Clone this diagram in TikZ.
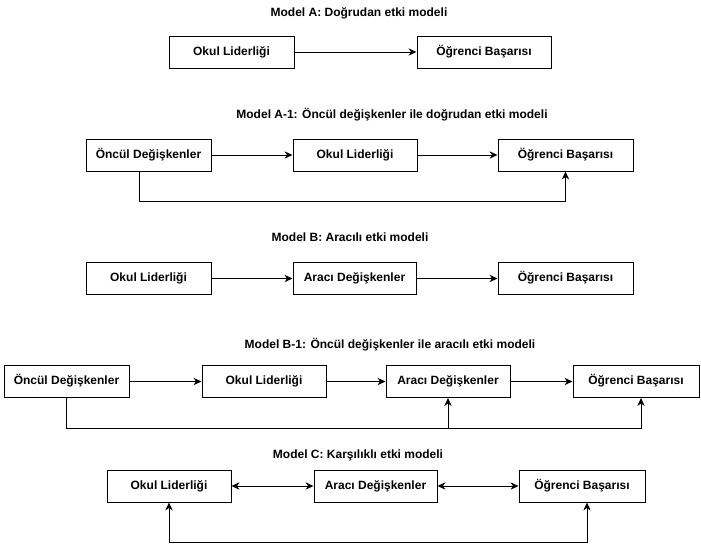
\documentclass[tikz,border=0pt]{standalone}
\usepackage{fontspec}
\setmainfont{Liberation Sans}
\usetikzlibrary{arrows.meta}

\tikzset{every picture/.style={line width=0.75pt}}
\tikzset{
  box/.style={draw, rectangle, minimum height=24pt, inner sep=0pt, text height=6.6pt, text depth=1.9pt, font=\fontsize{9}{11}\selectfont\bfseries},
  ttl/.style={font=\fontsize{9}{11}\selectfont\bfseries},
  arr/.style={-{Stealth[length=6pt,width=5.5pt]}},
  biarr/.style={{Stealth[length=6pt,width=5.5pt]}-{Stealth[length=6pt,width=5.5pt]}}
}

\begin{document}
\begin{tikzpicture}[x=0.75pt,y=0.75pt,yscale=-1,xscale=1]
	\useasboundingbox (0,0) rectangle (701,546);

	%Model A
	% Text Node
	\draw (359,13) node [ttl] (ttlA) {Model A: Doğrudan etki modeli};
	%Shape: Rectangle
	\draw (231.5,52) node [box, minimum width=93.75pt] (okulA) {Okul Liderliği};
	%Shape: Rectangle
	\draw (484,52) node [box, minimum width=100.5pt] (ogrA) {Öğrenci Başarısı};
	%Straight Lines
	\draw [arr] (okulA) -- (ogrA);

	%Model A-1
	% Text Node
	\draw (392,115) node [ttl] (ttlAa) {Model A-1: Öncül değişkenler ile doğrudan etki modeli};
	%Shape: Rectangle
	\draw (148.5,155) node [box, minimum width=93.75pt] (oncAa) {Öncül Değişkenler};
	%Shape: Rectangle
	\draw (355,155) node [box, minimum width=93pt] (okulAa) {Okul Liderliği};
	%Shape: Rectangle
	\draw (565.5,155) node [box, minimum width=101.25pt] (ogrAa) {Öğrenci Başarısı};
	%Straight Lines
	\draw [arr] (oncAa) -- (okulAa);
	\draw [arr] (okulAa) -- (ogrAa);
	%Elbow Lines
	\draw [arr] ([xshift=-7pt]oncAa.south) -- ++(0,30) -| (ogrAa);

	%Model B
	% Text Node
	\draw (350,237) node [ttl] (ttlB) {Model B: Aracılı etki modeli};
	%Shape: Rectangle
	\draw (148.5,278.5) node [box, minimum width=93.75pt] (okulB) {Okul Liderliği};
	%Shape: Rectangle
	\draw (354.5,278.5) node [box, minimum width=92.25pt] (araB) {Aracı Değişkenler};
	%Shape: Rectangle
	\draw (565.5,278.5) node [box, minimum width=101.25pt] (ogrB) {Öğrenci Başarısı};
	%Straight Lines
	\draw [arr] (okulB) -- (araB);
	\draw [arr] (araB) -- (ogrB);

	%Model B-1
	% Text Node
	\draw (390,345) node [ttl] (ttlBa) {Model B-1: Öncül değişkenler ile aracılı etki modeli};
	%Shape: Rectangle
	\draw (66.5,381.5) node [box, minimum width=93.75pt] (oncBa) {Öncül Değişkenler};
	%Shape: Rectangle
	\draw (264,381.5) node [box, minimum width=93pt] (okulBa) {Okul Liderliği};
	%Shape: Rectangle
	\draw (448,381.5) node [box, minimum width=93pt] (araBa) {Aracı Değişkenler};
	%Shape: Rectangle
	\draw (636,381.5) node [box, minimum width=94.5pt] (ogrBa) {Öğrenci Başarısı};
	%Straight Lines
	\draw [arr] (oncBa) -- (okulBa);
	\draw [arr] (okulBa) -- (araBa);
	\draw [arr] (araBa) -- (ogrBa);
	%Elbow Lines
	\coordinate (fbBa) at (448,428);
	\draw [arr] (oncBa.south) |- ([xshift=3.75pt]ogrBa.south |- fbBa) -- ([xshift=3.75pt]ogrBa.south);
	\draw [arr] (fbBa) -- (araBa);

	%Model C
	% Text Node
	\draw (358,455) node [ttl] (ttlC) {Model C: Karşılıklı etki modeli};
	%Shape: Rectangle
	\draw (169,486) node [box, minimum width=93pt] (okulC) {Okul Liderliği};
	%Shape: Rectangle
	\draw (375.5,486) node [box, minimum width=92.25pt] (araC) {Aracı Değişkenler};
	%Shape: Rectangle
	\draw (582,486) node [box, minimum width=94.5pt] (ogrC) {Öğrenci Başarısı};
	%Straight Lines
	\draw [biarr] (okulC) -- (araC);
	\draw [biarr] (araC) -- (ogrC);
	%Elbow Lines
	\draw [biarr] (okulC.south) -- ++(0,40) -| ([xshift=3.75pt]ogrC.south);

\end{tikzpicture}
\end{document}
